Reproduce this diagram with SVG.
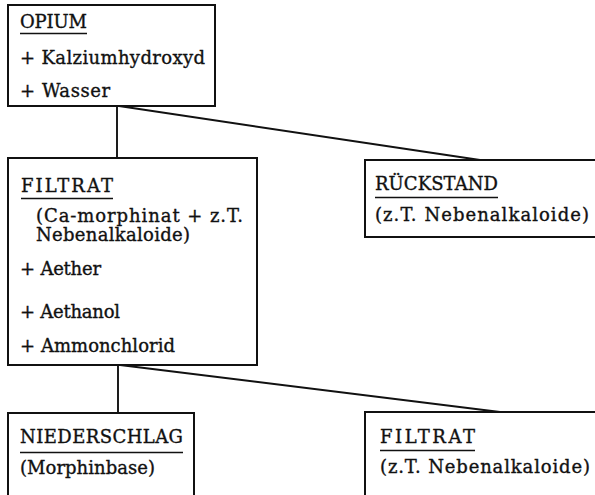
<svg xmlns="http://www.w3.org/2000/svg" width="595" height="495" viewBox="0 0 595 495">
<style>
.box{fill:#fff;stroke:#111;stroke-width:2}
.t{font-family:"DejaVu Serif","Liberation Serif",serif;font-size:18px;fill:#111;stroke:#111;stroke-width:0.35}
.u{stroke:#111;stroke-width:1.5}
.c{fill:none;stroke:#111;stroke-width:1.9}
</style>
<rect width="595" height="495" fill="#fff"/>
<g id="connectors">
<path class="c" d="M117 106V158"/>
<path class="c" d="M119 106L480 160"/>
<path class="c" d="M118 365V413"/>
<path class="c" d="M120 365L500 412"/>
</g>
<g id="opium">
<rect class="box" x="8" y="5" width="207" height="101"/>
<text class="t" x="20" y="28" textLength="67" lengthAdjust="spacing">OPIUM</text>
<line class="u" x1="20" y1="33.5" x2="87" y2="33.5"/>
<text class="t" x="20" y="64" textLength="185" lengthAdjust="spacing">+ Kalziumhydroxyd</text>
<text class="t" x="20" y="97" textLength="90" lengthAdjust="spacing">+ Wasser</text>
</g>
<g id="filtrat1">
<rect class="box" x="8" y="158" width="249" height="207"/>
<text class="t" x="21" y="192" textLength="92" lengthAdjust="spacing">FILTRAT</text>
<line class="u" x1="21" y1="198.5" x2="113" y2="198.5"/>
<text class="t" x="36" y="222" textLength="207" lengthAdjust="spacing">(Ca-morphinat + z.T.</text>
<text class="t" x="36" y="241" textLength="154" lengthAdjust="spacing">Nebenalkaloide)</text>
<text class="t" x="20" y="275" textLength="81" lengthAdjust="spacing">+ Aether</text>
<text class="t" x="20" y="318" textLength="100" lengthAdjust="spacing">+ Aethanol</text>
<text class="t" x="20" y="352" textLength="155" lengthAdjust="spacing">+ Ammonchlorid</text>
</g>
<g id="rueckstand">
<rect class="box" x="365" y="160" width="240" height="77"/>
<text class="t" x="375" y="190" textLength="123" lengthAdjust="spacing">RÜCKSTAND</text>
<line class="u" x1="375" y1="197.5" x2="498" y2="197.5"/>
<text class="t" x="375" y="221" textLength="214" lengthAdjust="spacing">(z.T. Nebenalkaloide)</text>
</g>
<g id="niederschlag">
<rect class="box" x="8" y="413" width="186" height="90"/>
<text class="t" x="20" y="443" textLength="163" lengthAdjust="spacing">NIEDERSCHLAG</text>
<line class="u" x1="20" y1="452.5" x2="183" y2="452.5"/>
<text class="t" x="20" y="474" textLength="135" lengthAdjust="spacing">(Morphinbase)</text>
</g>
<g id="filtrat2">
<rect class="box" x="365" y="412" width="240" height="90"/>
<text class="t" x="380" y="443" textLength="95" lengthAdjust="spacing">FILTRAT</text>
<line class="u" x1="380" y1="450.5" x2="475" y2="450.5"/>
<text class="t" x="380" y="473" textLength="210" lengthAdjust="spacing">(z.T. Nebenalkaloide)</text>
</g>
</svg>
